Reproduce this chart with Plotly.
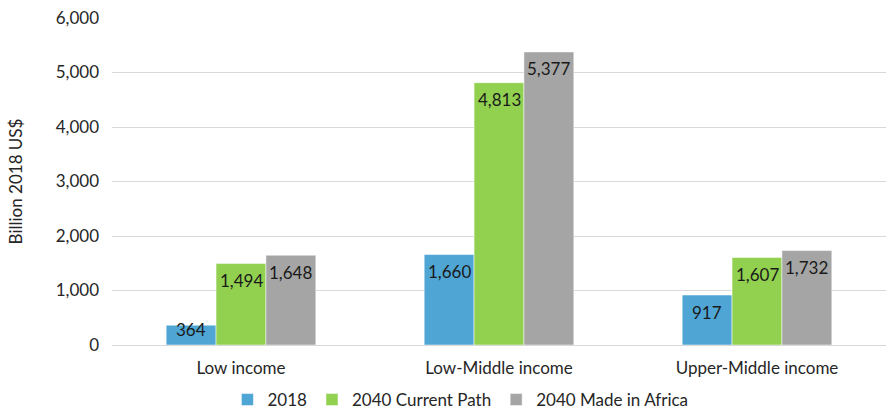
import plotly.graph_objects as go

categories = ["Low income", "Low-Middle income", "Upper-Middle income"]
series_names = ["2018", "2040 Current Path", "2040 Made in Africa"]
values_2018 = [364, 1660, 917]
values_cp = [1494, 4813, 1607]
values_mia = [1648, 5377, 1732]
colors = ["#4FA6D4", "#92D050", "#A5A5A5"]
tick_vals = [0, 1000, 2000, 3000, 4000, 5000, 6000]

FONT = "Lato, 'Open Sans', sans-serif"
FS = 17

W, H = 894, 409
ML, MR, MT, MB = 112, 8, 18, 64
YMAX = 6000
BARGAP = 0.42

plot_w = W - ML - MR
plot_h = H - MT - MB
cat_w = plot_w / len(categories)
bar_w = cat_w * (1 - BARGAP) / len(series_names)
px_per_unit = plot_h / YMAX

fig = go.Figure()
all_vals = [values_2018, values_cp, values_mia]
for name, vals, col in zip(series_names, all_vals, colors):
    fig.add_trace(go.Bar(
        x=categories, y=vals, name=name,
        marker=dict(color=col, line=dict(color="rgba(255,255,255,0.5)", width=1)),
        hoverinfo="x+y+name",
    ))

annotations = []
for i, vals in enumerate(all_vals):
    for cat, v in zip(categories, vals):
        bar_px = v * px_per_unit
        annotations.append(dict(
            x=cat, y=v, xref="x", yref="y", text=f"{v:,}", showarrow=False,
            xshift=(i - 1) * bar_w, yshift=-min(17, bar_px - 15),
            yanchor="middle", xanchor="center",
            font=dict(family=FONT, size=FS, color="#1a1a1a"),
        ))

fig.update_layout(
    width=W, height=H,
    margin=dict(l=ML, r=MR, t=MT, b=MB, autoexpand=False),
    barmode="group", bargap=BARGAP, bargroupgap=0,
    plot_bgcolor="white", paper_bgcolor="white",
    font=dict(family=FONT, size=FS, color="#262626"),
    annotations=annotations,
    legend=dict(orientation="h", x=0.515, xanchor="center", xref="container",
                y=0.022, yanchor="middle", yref="container",
                font=dict(size=FS), itemwidth=30, traceorder="normal",
                tracegroupgap=0),
    yaxis=dict(range=[0, YMAX], tickvals=tick_vals, tickformat=",",
               gridcolor="#D9D9D9", gridwidth=1, zeroline=False,
               showline=False, ticks="", ticklabelstandoff=12,
               title=dict(text="Billion 2018 US$", standoff=28, font=dict(size=FS))),
    xaxis=dict(showline=True, linecolor="#D9D9D9", ticks="", ticklabelstandoff=8,
               tickfont=dict(size=FS)),
)

fig.write_html("out.html")
